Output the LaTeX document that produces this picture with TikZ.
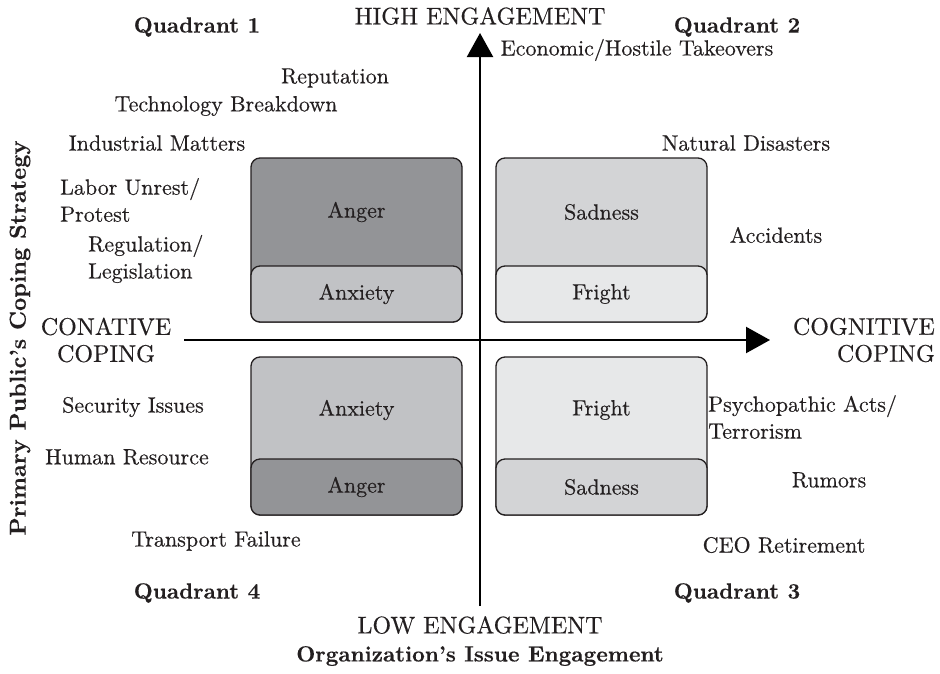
\documentclass[tikz,border=0pt]{standalone}
\usetikzlibrary{arrows.meta}
\DeclareFontFamily{TU}{lmten}{}
\DeclareFontShape{TU}{lmten}{m}{n}{<-> "[lmroman10-regular]:mapping=tex-text;embolden=0.4"}{}
\DeclareFontShape{TU}{lmten}{b}{n}{<-> "[lmroman10-bold]:mapping=tex-text;embolden=0.3"}{}
\DeclareFontShape{TU}{lmten}{bx}{n}{<-> "[lmroman10-bold]:mapping=tex-text;embolden=0.3"}{}
\definecolor{angerc}{HTML}{939497}
\definecolor{anxc}{HTML}{C1C2C5}
\definecolor{sadc}{HTML}{D3D4D6}
\definecolor{frightc}{HTML}{E7E8E9}
\definecolor{inkc}{HTML}{231F20}
\tikzset{
  txt/.style={font=\fontfamily{lmten}\fontsize{22}{27}\selectfont, text=inkc, inner sep=0pt},
  caps/.style={font=\fontfamily{lmten}\fontsize{24}{27}\selectfont, text=inkc, inner sep=0pt},
  bold/.style={font=\fontfamily{lmten}\fontsize{22}{27}\selectfont\bfseries, text=inkc, inner sep=0pt},
  emobox/.style={draw=inkc, line width=1.3pt, rounded corners=9pt, minimum width=211pt, inner sep=0pt},
  axis/.style={line width=2.2pt, draw=black, -{Triangle[length=24pt,width=26pt]}}
}
\begin{document}
\begin{tikzpicture}[x=1pt,y=-1pt]
\useasboundingbox (0,0) rectangle (940,673);
% boxes
\node[emobox, fill=angerc, minimum height=164pt] (b1) at (356.5,240) {};
\node[emobox, fill=anxc, minimum height=56pt] (b1l) at (356.5,294) {};
\node[emobox, fill=sadc, minimum height=164pt] (b2) at (601.5,240) {};
\node[emobox, fill=frightc, minimum height=56pt] (b2l) at (601.5,294) {};
\node[emobox, fill=anxc, minimum height=158pt] (b4) at (356.5,436) {};
\node[emobox, fill=angerc, minimum height=56pt] (b4l) at (356.5,487) {};
\node[emobox, fill=frightc, minimum height=158pt] (b3) at (601.5,436) {};
\node[emobox, fill=sadc, minimum height=56pt] (b3l) at (601.5,487) {};
\node[txt] (t1) at (356.5,212) {Anger};
\node[txt] (t2) at (356.5,294) {Anxiety};
\node[txt] (t3) at (601.5,212) {Sadness};
\node[txt] (t4) at (601.5,294) {Fright};
\node[txt] (t5) at (356.5,410) {Anxiety};
\node[txt] (t6) at (356.5,487) {Anger};
\node[txt] (t7) at (601.5,410) {Fright};
\node[txt] (t8) at (601.5,487) {Sadness};
% axes
\coordinate (vb) at (480,606);
\coordinate (vt) at (480,33);
\coordinate (hl) at (184,340);
\coordinate (hr) at (770,340);
\draw[axis] (vb) -- (vt);
\draw[axis] (hl) -- (hr);
% axis labels
\node[caps] (high) at (480,16) {HIGH ENGAGEMENT};
\node[caps] (low) at (480,625) {LOW ENGAGEMENT};
\node[bold] (org) at (480,656) {Organization's Issue Engagement};
\node[bold, rotate=90, font=\fontfamily{lmten}\fontsize{23}{27}\selectfont\bfseries] (ppc) at (20,338) {Primary Public's Coping Strategy};
\node[caps, align=center] (con) at (106,340) {CONATIVE\\COPING};
\node[caps, align=right, anchor=east] (cog) at (935,340) {COGNITIVE\\COPING};
% quadrants
\node[bold] (q1) at (197,27) {Quadrant 1};
\node[bold] (q2) at (737,27) {Quadrant 2};
\node[bold] (q4) at (197,593) {Quadrant 4};
\node[bold] (q3) at (737,593) {Quadrant 3};
% issues
\node[txt] (i1) at (335,78) {Reputation};
\node[txt] (i2) at (637,50) {Economic/Hostile Takeovers};
\node[txt] (i3) at (226,106) {Technology Breakdown};
\node[txt] (i4) at (157,143) {Industrial Matters};
\node[txt] (i5) at (746,143) {Natural Disasters};
\node[txt, align=left, anchor=west] (i6) at (60,200) {Labor Unrest/\\Protest};
\node[txt, align=left, anchor=west] (i7) at (88,259) {Regulation/\\Legislation};
\node[txt] (i8) at (776,235) {Accidents};
\node[txt] (i9) at (133,407) {Security Issues};
\node[txt] (i10) at (127,457) {Human Resource};
\node[txt, align=left, anchor=west] (i11) at (708,417) {Psychopathic Acts/\\Terrorism};
\node[txt] (i12) at (829,480) {Rumors};
\node[txt] (i13) at (216,541) {Transport Failure};
\node[txt] (i14) at (784,545) {CEO Retirement};
\end{tikzpicture}
\end{document}
